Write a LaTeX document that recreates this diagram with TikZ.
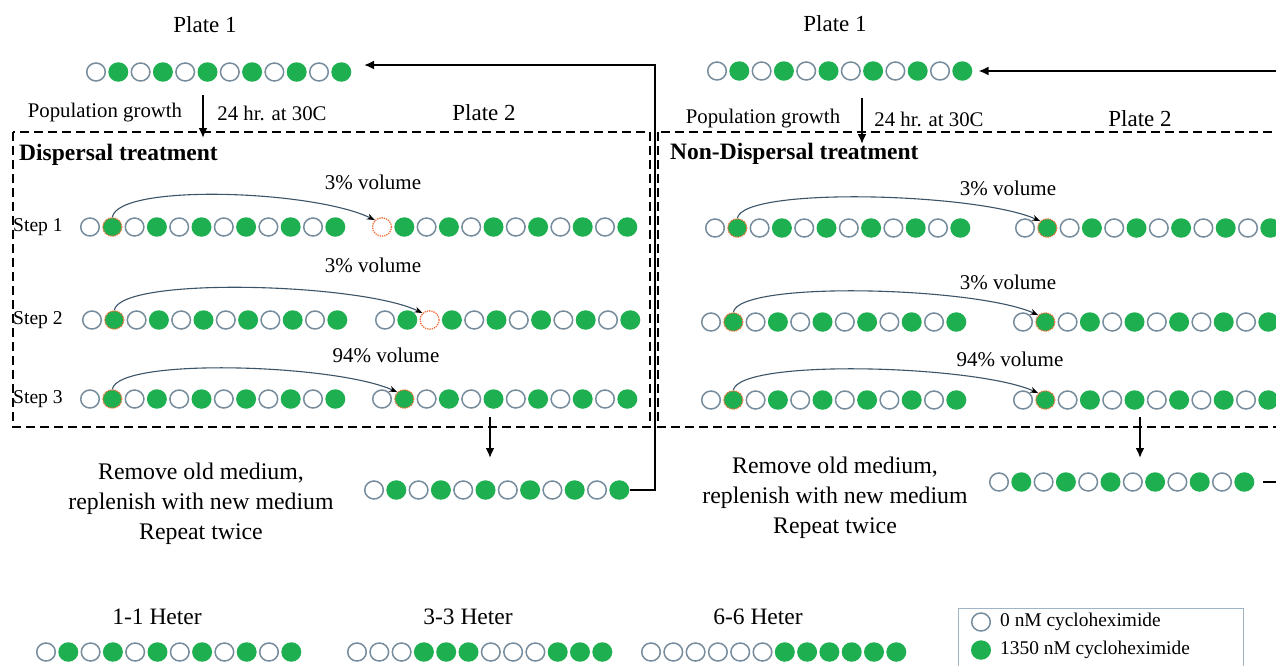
\documentclass[tikz,border=0pt]{standalone}
\usepackage{fontspec}
\setmainfont{Liberation Serif}
\usetikzlibrary{arrows.meta,calc,shapes.geometric}
\definecolor{cgreen}{RGB}{30,176,80}
\definecolor{cring}{RGB}{118,140,156}
\definecolor{corange}{RGB}{240,112,56}
\definecolor{carc}{RGB}{60,84,104}
\definecolor{clegend}{RGB}{160,180,200}
\newcommand{\cellrow}[4]{\foreach \t [count=\i] in {#4}{\node[c\t] (#1-\i) at ({#2+(\i-1)*22.3},#3) {};}}
\begin{document}
\begin{tikzpicture}[x=1pt,y=-1pt,
  every node/.style={inner sep=0pt},
  dotbase/.style={shape=ellipse,minimum width=20pt,minimum height=19.5pt,inner sep=0pt},
  co/.style={dotbase,minimum width=18.6pt,minimum height=18pt,draw=cring,line width=1.5pt,fill=white},
  cg/.style={dotbase,fill=cgreen},
  cG/.style={dotbase,minimum width=19pt,minimum height=18.4pt,fill=cgreen,draw=corange,densely dotted,line width=1.2pt},
  cr/.style={dotbase,minimum width=19pt,minimum height=18.4pt,fill=white,draw=corange,densely dotted,line width=1.3pt},
  plate/.style={font=\fontsize{23}{26}\selectfont},
  pop/.style={font=\fontsize{20.8}{24}\selectfont},
  ttl/.style={font=\fontsize{23.5}{27}\selectfont\bfseries,anchor=west},
  vol/.style={font=\fontsize{21}{24}\selectfont},
  steplbl/.style={font=\fontsize{19.6}{23}\selectfont,anchor=west},
  remove/.style={font=\fontsize{23.8}{30}\selectfont,align=center},
  heter/.style={font=\fontsize{23.5}{27}\selectfont},
  legtxt/.style={font=\fontsize{19.4}{22}\selectfont,anchor=west},
  box/.style={draw=black,line width=2pt,dash pattern=on 9pt off 5pt},
  flow/.style={draw=black,line width=2.4pt,-{Latex[length=10pt,width=9pt]}},
  flowline/.style={draw=black,line width=2.4pt},
  arcarrow/.style={draw=carc,line width=1.1pt,-{Stealth[length=8pt,width=6pt,black]}},
  legendbox/.style={draw=clegend,line width=1pt}]
\useasboundingbox (0,0) rectangle (1276,665);
\fill[white] (0,0) rectangle (1276,665);
\clip (0,0) rectangle (1276,665);

% ===== Left: Dispersal =====
\node[plate] (LPlate1) at (205,25) {Plate 1};
\cellrow{LP}{96}{72}{o,g,o,g,o,g,o,g,o,g,o,g}
\node[pop] (Lpop) at (105,113) {Population growth};
\node[pop] (Lhr) at (272,113) {24 hr. at 30C};
\node[plate] (LPlate2) at (484,113) {Plate 2};
\draw[box] (13,132) rectangle (650,427);
\node[ttl] (Ltitle) at (19,155) {Dispersal treatment};

\node[steplbl] (Ls1) at (13,227) {Step 1};
\cellrow{L1a}{90}{227}{o,G,o,g,o,g,o,g,o,g,o,g}
\cellrow{L1b}{382}{227}{r,g,o,g,o,g,o,g,o,g,o,g}
\node[vol] (Lv1) at (373,182) {3\% volume};
\draw[arcarrow] (L1a-2.north) .. controls +(6,-34) and +(-62,-30) .. (L1b-1.north west);

\node[steplbl] (Ls2) at (13,320) {Step 2};
\cellrow{L2a}{92}{320}{o,G,o,g,o,g,o,g,o,g,o,g}
\cellrow{L2b}{385}{320}{o,g,r,g,o,g,o,g,o,g,o,g}
\node[vol] (Lv2) at (373,265) {3\% volume};
\draw[arcarrow] (L2a-2.north) .. controls +(6,-34) and +(-62,-30) .. (L2b-3.north west);

\node[steplbl] (Ls3) at (13,399) {Step 3};
\cellrow{L3a}{90}{399}{o,G,o,g,o,g,o,g,o,g,o,g}
\cellrow{L3b}{382}{399}{o,G,o,g,o,g,o,g,o,g,o,g}
\node[vol] (Lv3) at (386,355) {94\% volume};
\draw[arcarrow] (L3a-2.north) .. controls +(6,-32) and +(-62,-28) .. (L3b-2.north west);

\cellrow{LB}{374}{490}{o,g,o,g,o,g,o,g,o,g,o,g}
\node[remove] (Lrem) at (201,504) {Remove old medium,\\replenish with new medium\\Repeat twice};

\coordinate (Ld1s) at (203,95);
\coordinate (Ld1e) at (203,138);
\draw[flow] (Ld1s) -- (Ld1e);
\coordinate (Ld2s) at (490,417);
\coordinate (Ld2e) at (490,458);
\draw[flow] (Ld2s) -- (Ld2e);
\coordinate (Lturn) at (655,65);
\coordinate (Ltip) at (364,65);
\draw[flow] (LB-12.east) -| (Lturn) -- (Ltip);

% ===== Right: Non-Dispersal =====
\node[plate] (RPlate1) at (835,24) {Plate 1};
\cellrow{RP}{717}{71}{o,g,o,g,o,g,o,g,o,g,o,g}
\node[pop] (Rpop) at (763,119) {Population growth};
\node[pop] (Rhr) at (929,119) {24 hr. at 30C};
\node[plate] (RPlate2) at (1140,119) {Plate 2};
\draw[box] (658,132) rectangle (1300,427);
\node[ttl] (Rtitle) at (670,154) {Non-Dispersal treatment};

\cellrow{R1a}{715}{228}{o,G,o,g,o,g,o,g,o,g,o,g}
\cellrow{R1b}{1025}{228}{o,G,o,g,o,g,o,g,o,g,o,g}
\node[vol] (Rv1) at (1008,188) {3\% volume};
\draw[arcarrow] (R1a-2.north) .. controls +(6,-32) and +(-62,-28) .. (R1b-2.north west);

\cellrow{R2a}{711}{322}{o,G,o,g,o,g,o,g,o,g,o,g}
\cellrow{R2b}{1023}{322}{o,G,o,g,o,g,o,g,o,g,o,g}
\node[vol] (Rv2) at (1008,282) {3\% volume};
\draw[arcarrow] (R2a-2.north) .. controls +(6,-32) and +(-62,-28) .. (R2b-2.north west);

\cellrow{R3a}{711}{400}{o,G,o,g,o,g,o,g,o,g,o,g}
\cellrow{R3b}{1023}{400}{o,G,o,g,o,g,o,g,o,g,o,g}
\node[vol] (Rv3) at (1010,359) {94\% volume};
\draw[arcarrow] (R3a-2.north) .. controls +(6,-32) and +(-62,-28) .. (R3b-2.north west);

\cellrow{RB}{999}{482}{o,g,o,g,o,g,o,g,o,g,o,g}
\node[remove] (Rrem) at (835,498) {Remove old medium,\\replenish with new medium\\Repeat twice};

\coordinate (Rd1s) at (862,98);
\coordinate (Rd1e) at (862,144);
\draw[flow] (Rd1s) -- (Rd1e);
\coordinate (Rd2s) at (1140,417);
\coordinate (Rd2e) at (1140,458);
\draw[flow] (Rd2s) -- (Rd2e);
\coordinate (Rin) at (1300,71);
\draw[flow] (Rin) -- ([xshift=6pt]RP-12.east);
\coordinate (Rout) at (1300,482);
\draw[flowline] ([xshift=8pt]RB-12.east) -- (Rout);

% ===== Bottom: heterogeneity patterns =====
\node[heter] (H1lbl) at (157,617) {1-1 Heter};
\cellrow{H1}{46}{652}{o,g,o,g,o,g,o,g,o,g,o,g}
\node[heter] (H3lbl) at (468,617) {3-3 Heter};
\cellrow{H3}{357}{652}{o,o,o,g,g,g,o,o,o,g,g,g}
\node[heter] (H6lbl) at (758,617) {6-6 Heter};
\cellrow{H6}{651}{652}{o,o,o,o,o,o,g,g,g,g,g,g}

% ===== Legend =====
\draw[legendbox] (958,608) rectangle (1243,690);
\node[co] (LegO) at (981,622) {};
\node[legtxt] (LegOt) at (1000,622) {0 nM cycloheximide};
\node[cg] (LegG) at (981,650) {};
\node[legtxt] (LegGt) at (1000,650) {1350 nM cycloheximide};
\end{tikzpicture}
\end{document}
